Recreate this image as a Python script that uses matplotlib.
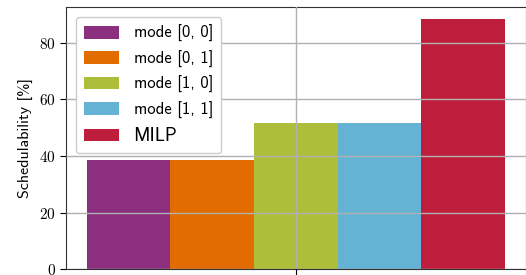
import matplotlib
matplotlib.use("Agg")
import matplotlib.pyplot as plt
import numpy as np

# valores
modos = ["mode [0, 0]", "mode [0, 1]", "mode [1, 0]", "mode [1, 1]", "MILP"]
schedulability = [38.6, 38.6, 51.7, 51.7, 88.4]
colores = ["#8B2F7E", "#E36C00", "#ADBF3A", "#65B3D4", "#BE1E3C"]

plt.rcParams["font.family"] = "cmr10"
plt.rcParams["axes.formatter.use_mathtext"] = True

fig = plt.figure(figsize=(5.26, 2.75), dpi=100)
ax = fig.add_axes([0.1255, 0.021, 0.874, 0.955])

ancho = 0.2
x = np.arange(1)
for i, (nombre, valor, color) in enumerate(zip(modos, schedulability, colores)):
    ax.bar(x + (i - 2) * ancho, [valor], ancho, color=color, label=nombre)

ax.set_xticks(x)
ax.set_xticklabels([""])
ax.set_ylabel("Schedulability [%]", family="cmss10", fontsize=11.5)
ax.tick_params(labelsize=11, direction="out", length=4)
ax.grid(True, color="#b0b0b0", linewidth=1.0)
ax.set_axisbelow(False)
for s in ax.spines.values():
    s.set_color("#333333")

leg = ax.legend(loc="upper left", prop={"family": "cmss10", "size": 12},
                handlelength=2.1, handleheight=0.8, handletextpad=0.85,
                labelspacing=0.5, borderpad=0.5, borderaxespad=0.6,
                framealpha=1.0, edgecolor="#cccccc")
leg.get_texts()[-1].set_fontsize(13.5)

fig.savefig("out.png", dpi=100)
